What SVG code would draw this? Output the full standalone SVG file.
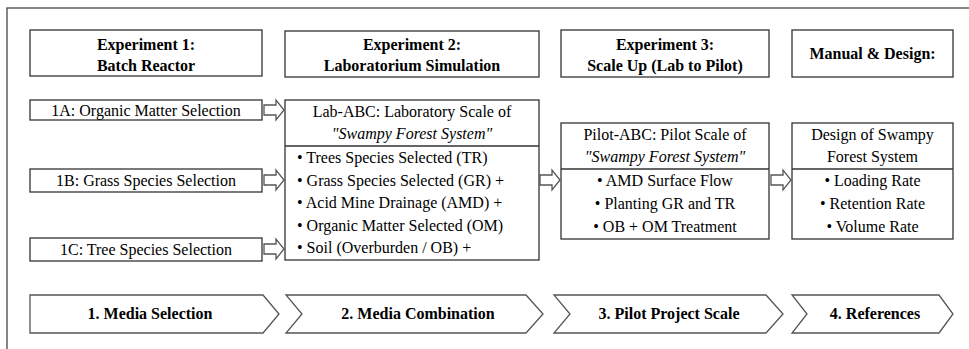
<svg xmlns="http://www.w3.org/2000/svg" width="969" height="349" viewBox="0 0 969 349">
<style>
  .box { fill: #fff; stroke: #333; stroke-width: 1.3; }
  .chev { fill: #fff; stroke: #555; stroke-width: 1.3; }
  .arr { fill: #fff; stroke: #555; stroke-width: 1.3; }
  .frame { fill: none; stroke: #444; stroke-width: 1.3; }
  text { font-family: "Liberation Serif", Tinos, "Times New Roman", Times, "Noto Serif", "DejaVu Serif", FreeSerif, serif; fill: #000; }
  .h { font-size: 16px; font-weight: bold; text-anchor: middle; }
  .t { font-size: 16px; text-anchor: middle; }
  .tl { font-size: 16px; text-anchor: start; }
  .i { font-style: italic; }
</style>
<defs>
  <path id="harrow" class="arr" d="M0,-5 H12 V-10 L20,0 L12,10 V5 H0 Z"/>
</defs>
<rect width="969" height="349" fill="#fff"/>
<rect class="frame" x="7" y="8" width="990" height="370"/>

<g id="exp1-header">
  <rect class="box" x="30" y="30" width="232" height="46"/>
  <text class="h" x="146" y="50">Experiment 1:</text>
  <text class="h" x="146" y="71">Batch Reactor</text>
</g>
<g id="exp2-header">
  <rect class="box" x="285" y="31" width="254" height="46"/>
  <text class="h" x="412" y="50">Experiment 2:</text>
  <text class="h" x="412" y="71">Laboratorium Simulation</text>
</g>
<g id="exp3-header">
  <rect class="box" x="561" y="30" width="208" height="47"/>
  <text class="h" x="665" y="50">Experiment 3:</text>
  <text class="h" x="665" y="71">Scale Up (Lab to Pilot)</text>
</g>
<g id="manual-header">
  <rect class="box" x="792" y="30" width="161" height="47"/>
  <text class="h" x="872.5" y="59">Manual &amp; Design:</text>
</g>

<g id="n1a">
  <rect class="box" x="30" y="100" width="232" height="20"/>
  <text class="t" x="146" y="116">1A: Organic Matter Selection</text>
</g>
<g id="n1b">
  <rect class="box" x="30" y="169" width="232" height="23"/>
  <text class="t" x="146" y="186">1B: Grass Species Selection</text>
</g>
<g id="n1c">
  <rect class="box" x="30" y="238" width="232" height="23"/>
  <text class="t" x="146" y="255">1C: Tree Species Selection</text>
</g>

<g id="lab-abc">
  <rect class="box" x="285" y="100" width="254" height="160"/>
  <line class="box" x1="285" y1="146" x2="539" y2="146"/>
  <text class="t" x="412" y="117">Lab-ABC: Laboratory Scale of</text>
  <text class="t i" x="412" y="139">"Swampy Forest System"</text>
  <text class="tl" x="297" y="163">• Trees Species Selected (TR)</text>
  <text class="tl" x="297" y="186">• Grass Species Selected (GR) +</text>
  <text class="tl" x="297" y="208">• Acid Mine Drainage (AMD) +</text>
  <text class="tl" x="297" y="231">• Organic Matter Selected (OM)</text>
  <text class="tl" x="297" y="253">• Soil (Overburden / OB) +</text>
</g>

<g id="pilot-abc">
  <rect class="box" x="561" y="123" width="208" height="116"/>
  <line class="box" x1="561" y1="169" x2="769" y2="169"/>
  <text class="t" x="665" y="140">Pilot-ABC: Pilot Scale of</text>
  <text class="t i" x="665" y="162">"Swampy Forest System"</text>
  <text class="t" x="665" y="186">• AMD Surface Flow</text>
  <text class="t" x="665" y="209">• Planting GR and TR</text>
  <text class="t" x="665" y="232">• OB + OM Treatment</text>
</g>

<g id="design">
  <rect class="box" x="792" y="123" width="161" height="116"/>
  <line class="box" x1="792" y1="169" x2="953" y2="169"/>
  <text class="t" x="872.5" y="140">Design of Swampy</text>
  <text class="t" x="872.5" y="162">Forest System</text>
  <text class="t" x="872.5" y="186">• Loading Rate</text>
  <text class="t" x="872.5" y="209">• Retention Rate</text>
  <text class="t" x="872.5" y="232">• Volume Rate</text>
</g>

<g id="connectors">
  <use href="#harrow" x="264" y="110"/>
  <use href="#harrow" x="264" y="180"/>
  <use href="#harrow" x="264" y="249"/>
  <use href="#harrow" x="540" y="180"/>
  <use href="#harrow" x="771" y="180"/>
</g>

<g id="step1">
  <path class="chev" d="M30,295 H263 L279,314 L263,333 H30 Z"/>
  <text class="h" x="150" y="319">1. Media Selection</text>
</g>
<g id="step2">
  <path class="chev" d="M286,295 H526 L543,314 L526,333 H286 L302,314 Z"/>
  <text class="h" x="418" y="319">2. Media Combination</text>
</g>
<g id="step3">
  <path class="chev" d="M554,295 H766 L783,314 L766,333 H554 L570,314 Z"/>
  <text class="h" x="669" y="319">3. Pilot Project Scale</text>
</g>
<g id="step4">
  <path class="chev" d="M792,295 H939 L953,314 L939,333 H792 L807,314 Z"/>
  <text class="h" x="875" y="319">4. References</text>
</g>
</svg>
